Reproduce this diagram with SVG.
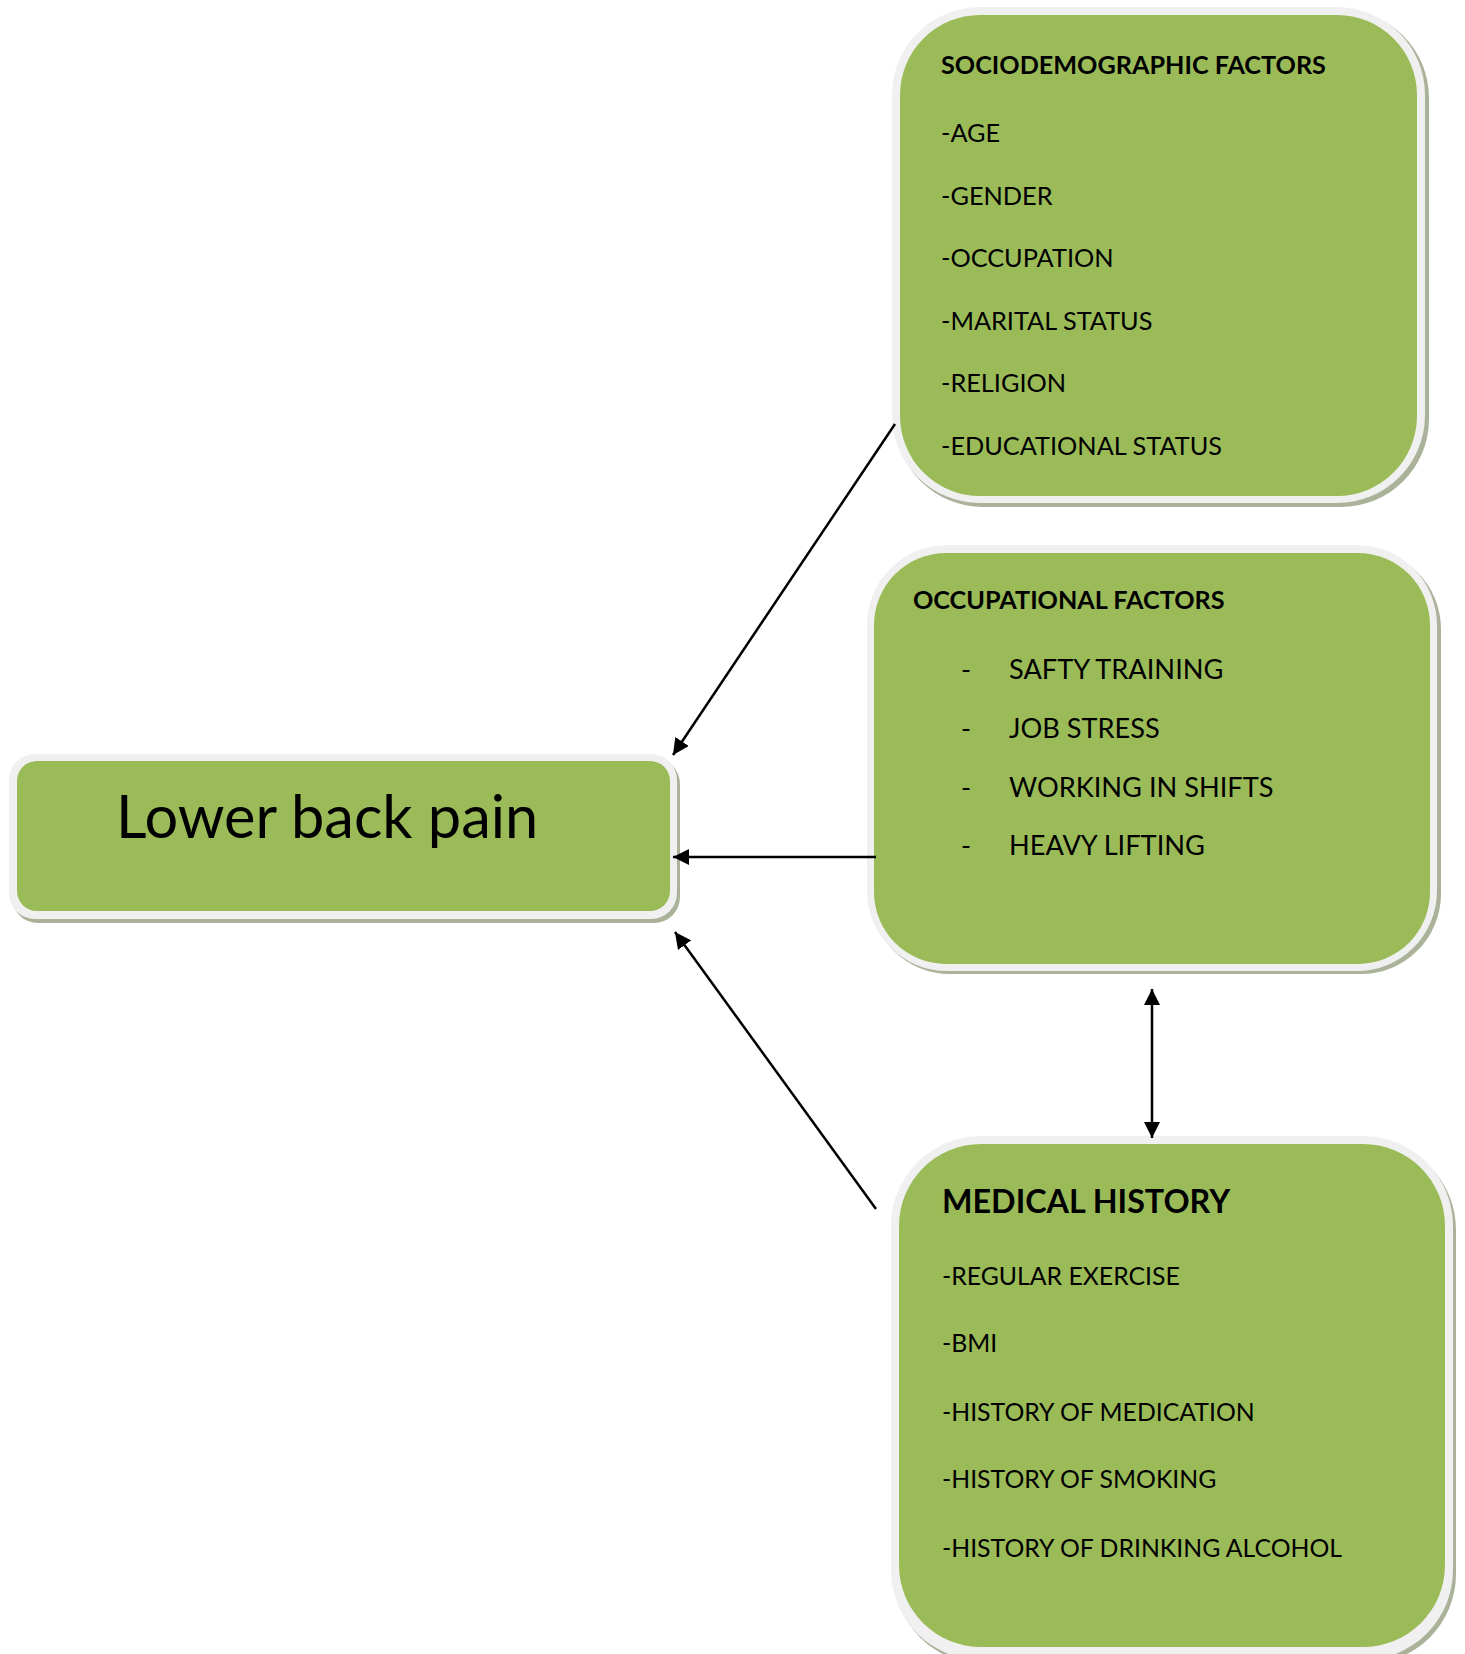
<svg xmlns="http://www.w3.org/2000/svg" width="1465" height="1654" viewBox="0 0 1465 1654">
<style>
.shadow{fill:#aab39a}
.rim{fill:#f0f0f0}
.box{fill:#9bbb59}
text{font-family:Lato,"Liberation Sans",sans-serif;fill:#000}
.t{font-size:25.2px;font-weight:bold}
.i{font-size:25.3px}
.m{font-size:24.8px}
.o{font-size:27.2px}
.big{font-size:59.5px}
.mt{font-size:32.3px;font-weight:bold}
.conn{stroke:#000;stroke-width:2.5;fill:none}
</style>
<defs>
<marker id="ah" viewBox="0 0 10 10" refX="10" refY="5" markerWidth="6.5" markerHeight="6.5" orient="auto-start-reverse" markerUnits="strokeWidth">
<path d="M0,0 L10,5 L0,10 z" fill="#000"/>
</marker>
</defs>
<rect width="1465" height="1654" fill="#fff"/>

<g id="lower-back-pain">
<rect class="shadow" x="12" y="758" width="668" height="165" rx="26"/>
<rect class="rim" x="9" y="754" width="668" height="165" rx="26"/>
<rect class="box" x="17" y="761" width="653" height="150" rx="20"/>
<text class="big" x="116" y="838">Lower back pain</text>
</g>

<g id="sociodemographic">
<rect class="shadow" x="895" y="10" width="534" height="497" rx="88"/>
<rect class="rim" x="892" y="7" width="533" height="496" rx="88"/>
<rect class="box" x="900" y="15" width="517" height="481" rx="80"/>
<text class="t" x="941" y="74">SOCIODEMOGRAPHIC FACTORS</text>
<text class="i" x="941" y="142">-AGE</text>
<text class="i" x="941" y="205">-GENDER</text>
<text class="i" x="941" y="267">-OCCUPATION</text>
<text class="i" x="941" y="330">-MARITAL STATUS</text>
<text class="i" x="941" y="392">-RELIGION</text>
<text class="i" x="941" y="455">-EDUCATIONAL STATUS</text>
</g>

<g id="occupational">
<rect class="shadow" x="870" y="549" width="571" height="425" rx="80"/>
<rect class="rim" x="867" y="545" width="570" height="426" rx="80"/>
<rect class="box" x="874" y="553" width="556" height="411" rx="72"/>
<text class="t" x="913" y="609">OCCUPATIONAL FACTORS</text>
<text class="o" x="961" y="679">-</text>
<text class="o" x="1009" y="679">SAFTY TRAINING</text>
<text class="o" x="961" y="738">-</text>
<text class="o" x="1009" y="738">JOB STRESS</text>
<text class="o" x="961" y="797">-</text>
<text class="o" x="1009" y="797">WORKING IN SHIFTS</text>
<text class="o" x="961" y="855">-</text>
<text class="o" x="1009" y="855">HEAVY LIFTING</text>
</g>

<g id="medical-history">
<rect class="shadow" x="894" y="1140" width="562" height="524" rx="90"/>
<rect class="rim" x="891" y="1136" width="562" height="524" rx="90"/>
<rect class="box" x="899" y="1144" width="546" height="503" rx="82"/>
<text class="mt" x="942" y="1213">MEDICAL HISTORY</text>
<text class="m" x="942" y="1285">-REGULAR EXERCISE</text>
<text class="m" x="942" y="1352">-BMI</text>
<text class="m" x="942" y="1421">-HISTORY OF MEDICATION</text>
<text class="m" x="942" y="1488">-HISTORY OF SMOKING</text>
<text class="m" x="942" y="1557">-HISTORY OF DRINKING ALCOHOL</text>
</g>

<g id="connectors">
<line class="conn" x1="895" y1="424" x2="673" y2="755" marker-end="url(#ah)"/>
<line class="conn" x1="876" y1="857" x2="673" y2="857" marker-end="url(#ah)"/>
<line class="conn" x1="876" y1="1209" x2="675" y2="932" marker-end="url(#ah)"/>
<line class="conn" x1="1152" y1="989" x2="1152" y2="1138" marker-start="url(#ah)" marker-end="url(#ah)"/>
</g>
</svg>
